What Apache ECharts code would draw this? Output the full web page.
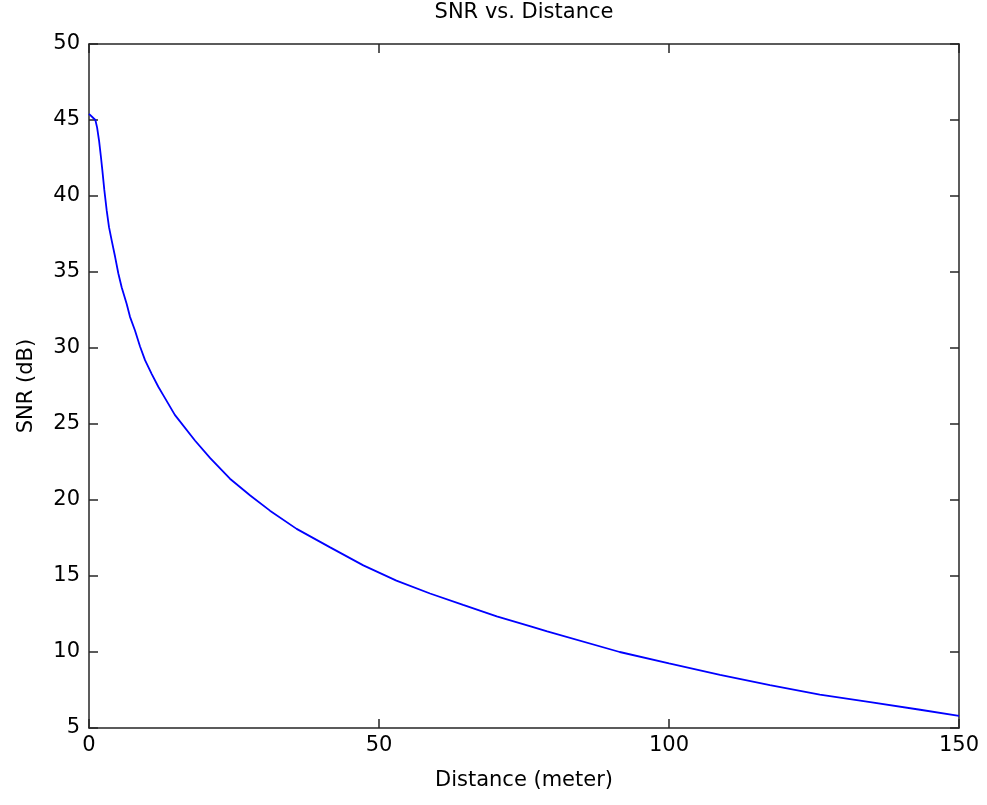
<!DOCTYPE html>
<html>
<head>
<meta charset="utf-8">
<script src="https://cdn.jsdelivr.net/npm/echarts@6/dist/echarts.min.js"></script>
<style>
  html, body { margin: 0; padding: 0; background: #fff; }
  #chart { width: 987px; height: 805px; }
</style>
</head>
<body>
<div id="chart"></div>
<script>
// Data
const distance = [0, 1.1, 1.4, 1.75, 2.05, 2.3, 2.64, 3.05, 3.45, 3.9, 4.5, 5.06, 5.63, 6.5, 7.07, 7.93, 8.8, 9.66, 10.8, 11.95, 12.8, 14.8, 18.3, 20.9, 24.3, 27.8, 31.2, 35.8, 41.5, 47.3, 53, 58.8, 64.5, 70.3, 76, 79, 91.5, 100, 108.8, 117.4, 126, 134.7, 143.3, 150];
const snr = [45.4, 45.0, 44.5, 43.6, 42.6, 41.7, 40.4, 39.05, 37.95, 37.1, 36.0, 34.9, 34.0, 32.9, 32.05, 31.15, 30.1, 29.2, 28.3, 27.45, 26.9, 25.6, 23.9, 22.75, 21.4, 20.3, 19.3, 18.1, 16.9, 15.7, 14.7, 13.85, 13.1, 12.35, 11.7, 11.35, 10.0, 9.25, 8.5, 7.82, 7.2, 6.7, 6.2, 5.8];
const xTicks = [0, 50, 100, 150];
const yTicks = [5, 10, 15, 20, 25, 30, 35, 40, 45, 50];
const titleText = 'SNR vs. Distance';
const xName = 'Distance (meter)';
const yName = 'SNR (dB)';

const FONT = 'DejaVu Sans';
const FS = 21;
const axisColor = '#262626';

const xMin = xTicks[0], xMax = xTicks[xTicks.length - 1], xInt = xTicks[1] - xTicks[0];
const yMin = yTicks[0], yMax = yTicks[yTicks.length - 1], yInt = yTicks[1] - yTicks[0];

const lineStyle = { color: axisColor, width: 1.5 };
const tickStyle = { show: true, inside: true, length: 9, lineStyle: { color: axisColor, width: 1.5 } };

const chart = echarts.init(document.getElementById('chart'), null, { renderer: 'canvas' });
chart.setOption({
  animation: false,
  backgroundColor: '#fff',
  title: {
    text: titleText,
    left: 524,
    top: 2,
    textAlign: 'center',
    padding: 0,
    textStyle: { fontFamily: FONT, fontSize: FS, fontWeight: 'normal', color: '#000' }
  },
  grid: { left: 89, top: 44, right: 28, bottom: 77, containLabel: false },
  xAxis: [
    {
      type: 'value', position: 'bottom', min: xMin, max: xMax, interval: xInt,
      name: xName, nameLocation: 'middle', nameGap: 42,
      nameTextStyle: { fontFamily: FONT, fontSize: FS, color: '#000' },
      axisLine: { show: true, onZero: false, lineStyle },
      axisTick: tickStyle,
      axisLabel: { fontFamily: FONT, fontSize: FS, color: '#000', margin: 7 },
      splitLine: { show: false }
    },
    {
      type: 'value', position: 'top', min: xMin, max: xMax, interval: xInt,
      axisLine: { show: true, onZero: false, lineStyle },
      axisTick: tickStyle,
      axisLabel: { show: false },
      splitLine: { show: false }
    }
  ],
  yAxis: [
    {
      type: 'value', position: 'left', min: yMin, max: yMax, interval: yInt,
      name: yName, nameLocation: 'middle', nameGap: 52, nameRotate: 90,
      nameTextStyle: { fontFamily: FONT, fontSize: FS, color: '#000' },
      axisLine: { show: true, onZero: false, lineStyle },
      axisTick: tickStyle,
      axisLabel: { fontFamily: FONT, fontSize: FS, color: '#000', margin: 9 },
      splitLine: { show: false }
    },
    {
      type: 'value', position: 'right', min: yMin, max: yMax, interval: yInt,
      axisLine: { show: true, onZero: false, lineStyle },
      axisTick: tickStyle,
      axisLabel: { show: false },
      splitLine: { show: false }
    }
  ],
  series: [
    {
      type: 'line',
      xAxisIndex: 0,
      yAxisIndex: 0,
      data: distance.map((d, i) => [d, snr[i]]),
      showSymbol: false,
      symbol: 'none',
      smooth: false,
      lineStyle: { color: '#0000ff', width: 1.8 },
      clip: true
    }
  ]
});
</script>
</body>
</html>
